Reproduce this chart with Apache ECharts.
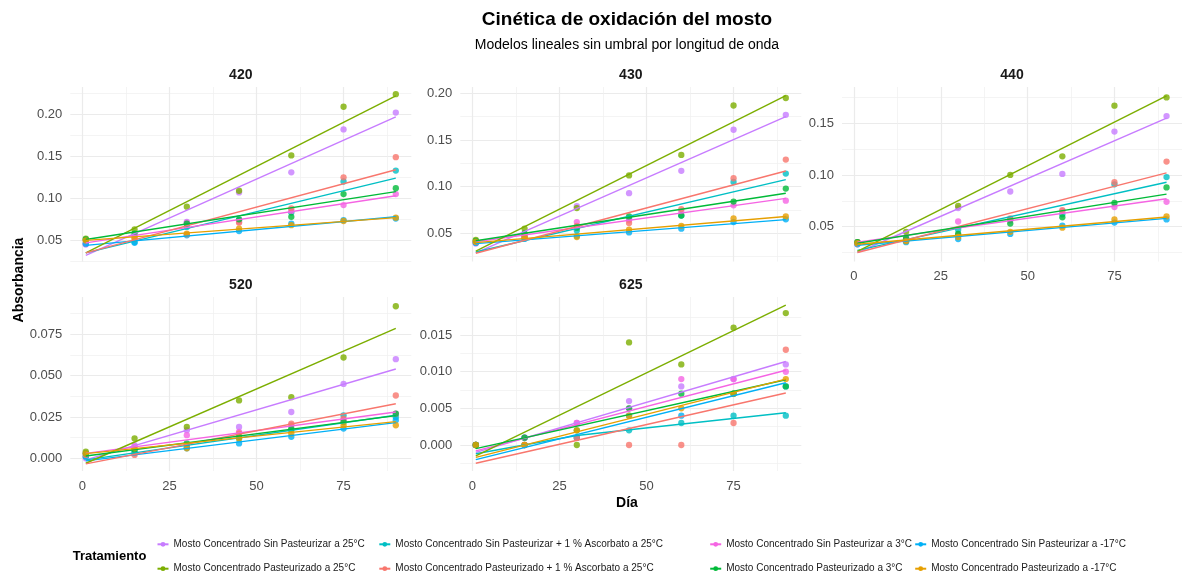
<!DOCTYPE html>
<html><head><meta charset="utf-8">
<script src="https://cdn.jsdelivr.net/npm/echarts@6/dist/echarts.min.js"></script>
<style>html,body{margin:0;padding:0;background:#fff}#c{width:1184px;height:573px}</style>
</head><body><div id="c"></div>
<script>
// ---------------- DATA ----------------
const days = [1, 15, 30, 45, 60, 75, 90];
const treatments = [
  'Mosto Concentrado Sin Pasteurizar a 25°C',
  'Mosto Concentrado Sin Pasteurizar + 1 % Ascorbato a 25°C',
  'Mosto Concentrado Sin Pasteurizar a 3°C',
  'Mosto Concentrado Sin Pasteurizar a -17°C',
  'Mosto Concentrado Pasteurizado a 25°C',
  'Mosto Concentrado Pasteurizado + 1 % Ascorbato a 25°C',
  'Mosto Concentrado Pasteurizado a 3°C',
  'Mosto Concentrado Pasteurizado a -17°C'
];
const colors = ['#C77CFF', '#00BFC4', '#F564E3', '#00B0F6', '#7CAE00', '#F8766D', '#00BA38', '#E69F00'];
const panelNames = ['420', '430', '440', '520', '625'];

// observed absorbance, one row per treatment (same order as treatments), columns = days
const abs420 = [
  [0.045, 0.056, 0.072, 0.107, 0.131, 0.182, 0.202],
  [0.046, 0.048, 0.066, 0.074, 0.083, 0.120, 0.133],
  [0.046, 0.055, 0.071, 0.072, 0.085, 0.092, 0.105],
  [0.046, 0.047, 0.056, 0.061, 0.070, 0.074, 0.076],
  [0.052, 0.063, 0.090, 0.109, 0.151, 0.209, 0.224],
  [0.050, 0.053, 0.057, 0.071, 0.088, 0.125, 0.149],
  [0.051, 0.058, 0.070, 0.075, 0.078, 0.105, 0.112],
  [0.050, 0.052, 0.058, 0.064, 0.068, 0.073, 0.077]
];
const abs430 = [
  [0.039, 0.048, 0.079, 0.093, 0.117, 0.161, 0.177],
  [0.040, 0.045, 0.053, 0.066, 0.069, 0.105, 0.114],
  [0.041, 0.047, 0.062, 0.064, 0.073, 0.080, 0.085],
  [0.040, 0.044, 0.047, 0.051, 0.055, 0.062, 0.065],
  [0.043, 0.055, 0.077, 0.112, 0.134, 0.187, 0.195],
  [0.041, 0.046, 0.058, 0.061, 0.076, 0.109, 0.129],
  [0.042, 0.050, 0.056, 0.068, 0.069, 0.084, 0.098],
  [0.041, 0.046, 0.046, 0.054, 0.058, 0.066, 0.068]
];
const abs440 = [
  [0.033, 0.040, 0.068, 0.084, 0.101, 0.142, 0.157],
  [0.034, 0.036, 0.047, 0.057, 0.062, 0.091, 0.098],
  [0.035, 0.038, 0.055, 0.056, 0.065, 0.069, 0.074],
  [0.033, 0.035, 0.038, 0.043, 0.051, 0.054, 0.057],
  [0.035, 0.045, 0.070, 0.100, 0.118, 0.167, 0.175],
  [0.034, 0.037, 0.042, 0.058, 0.066, 0.093, 0.113],
  [0.035, 0.039, 0.043, 0.053, 0.059, 0.073, 0.088],
  [0.034, 0.036, 0.040, 0.045, 0.049, 0.057, 0.060]
];
const abs520 = [
  [0.000, 0.008, 0.017, 0.019, 0.028, 0.045, 0.060],
  [0.001, 0.004, 0.007, 0.012, 0.017, 0.026, 0.025],
  [0.003, 0.007, 0.014, 0.016, 0.020, 0.023, 0.027],
  [0.001, 0.003, 0.006, 0.009, 0.013, 0.018, 0.023],
  [0.004, 0.012, 0.019, 0.035, 0.037, 0.061, 0.092],
  [0.002, 0.002, 0.008, 0.015, 0.021, 0.024, 0.038],
  [0.003, 0.005, 0.009, 0.013, 0.018, 0.022, 0.027],
  [0.003, 0.006, 0.006, 0.012, 0.015, 0.020, 0.020]
];
const abs625 = [
  [0.000, 0.001, 0.003, 0.006, 0.008, 0.009, 0.011],
  [0.000, 0.001, 0.001, 0.002, 0.003, 0.004, 0.004],
  [0.000, 0.001, 0.003, 0.005, 0.009, 0.009, 0.010],
  [0.000, 0.000, 0.001, 0.004, 0.004, 0.007, 0.008],
  [0.000, 0.000, 0.000, 0.014, 0.011, 0.016, 0.018],
  [0.000, 0.000, 0.001, 0.000, 0.000, 0.003, 0.013],
  [0.000, 0.001, 0.002, 0.005, 0.007, 0.007, 0.008],
  [0.000, 0.000, 0.002, 0.004, 0.005, 0.007, 0.009]
];

// fitted model lines, [day, value] points
const fit420 = [
  [[1, 0.032], [90, 0.197]], [[1, 0.035], [90, 0.124]], [[1, 0.047], [90, 0.103]], [[1, 0.044], [90, 0.078]],
  [[1, 0.035], [90, 0.222]], [[1, 0.035], [90, 0.134]], [[1, 0.051], [90, 0.108]], [[1, 0.050], [90, 0.077]]
];
const fit430 = [
  [[1, 0.029], [90, 0.175]], [[1, 0.030], [90, 0.1075]], [[1, 0.041], [90, 0.0875]], [[1, 0.039], [90, 0.0647]],
  [[1, 0.031], [90, 0.1975]], [[1, 0.0286], [90, 0.1168]], [[1, 0.042], [90, 0.093]], [[1, 0.040], [90, 0.068]]
];
const fit440 = [
  [[1, 0.025], [90, 0.155]], [[1, 0.027], [90, 0.093]], [[1, 0.035], [90, 0.077]], [[1, 0.032], [90, 0.058]],
  [[1, 0.026], [90, 0.1765]], [[1, 0.025], [90, 0.102]], [[1, 0.034], [90, 0.0815]], [[1, 0.033], [90, 0.0594]]
];
const fit520 = [
  [[1, -0.001], [90, 0.054]], [[1, -0.001], [90, 0.026]], [[1, 0.003], [90, 0.028]], [[1, -0.0016], [90, 0.0216]],
  [[1, -0.003], [90, 0.0786]], [[1, -0.0034], [90, 0.033]], [[1, 0.0014], [90, 0.0258]], [[1, 0.0028], [90, 0.0222]]
];
const fit625 = [
  [[1, -0.001], [90, 0.0114]], [[1, -0.0012], [30, 0.0013], [90, 0.0044]], [[1, -0.0008], [90, 0.0102]], [[1, -0.002], [90, 0.0085]],
  [[1, -0.0015], [90, 0.0191]], [[1, -0.0025], [90, 0.0071]], [[1, -0.0005], [90, 0.0089]], [[1, -0.0017], [90, 0.009]]
];

// tick values
const xMajor = [0, 25, 50, 75];
const xMinor = [12.5, 37.5, 62.5, 87.5];
const yMajorA = [0.05, 0.10, 0.15, 0.20];
const yMinorA = [0.025, 0.075, 0.125, 0.175, 0.225];
const yMajor440 = [0.05, 0.10, 0.15];
const yMinor440 = [0.025, 0.075, 0.125, 0.175];
const yMajor520 = [0, 0.025, 0.05, 0.075];
const yMinor520 = [0.0125, 0.0375, 0.0625, 0.0875];
const yMajor625 = [0, 0.005, 0.010, 0.015];
const yMinor625 = [-0.0025, 0.0025, 0.0075, 0.0125, 0.0175];

// ---------------- LAYOUT ----------------
const FONT = '"Liberation Sans", Arial, Helvetica, sans-serif';
const panels = [
  {abs: abs420, fit: fit420, yMajor: yMajorA, yMinor: yMinorA, yMin: 0.0248, yMax: 0.2325, dec: 2, left: 70.3, top: 87, width: 341, height: 174.5, xLab: false},
  {abs: abs430, fit: fit430, yMajor: yMajorA, yMinor: yMinorA, yMin: 0.0198, yMax: 0.2068, dec: 2, left: 460.3, top: 87, width: 341, height: 174.5, xLab: false},
  {abs: abs440, fit: fit440, yMajor: yMajor440, yMinor: yMinor440, yMin: 0.0163, yMax: 0.1851, dec: 2, left: 842, top: 87, width: 340, height: 174.5, xLab: true},
  {abs: abs520, fit: fit520, yMajor: yMajor520, yMinor: yMinor520, yMin: -0.0077, yMax: 0.0976, dec: 3, left: 70.3, top: 297, width: 341, height: 174, xLab: true},
  {abs: abs625, fit: fit625, yMajor: yMajor625, yMinor: yMinor625, yMin: -0.00355, yMax: 0.0202, dec: 3, left: 460.3, top: 297, width: 341, height: 174, xLab: true}
];
const XMIN = -3.45, XMAX = 94.45;
const gridMajor = {color: '#EBEBEB', width: 1.2};
const gridMinor = {color: '#EFEFEF', width: 0.7};
const tickText = {color: '#4D4D4D', fontSize: 13, fontFamily: FONT};

const grids = [], xAxes = [], yAxes = [], series = [], graphics = [];
panels.forEach((p, i) => {
  grids.push({left: p.left, top: p.top, width: p.width, height: p.height, containLabel: false, outerBoundsMode: 'none'});
  xAxes.push({type: 'value', gridIndex: i, min: XMIN, max: XMAX, position: 'bottom',
    axisLine: {show: false}, axisTick: {show: false, customValues: xMajor},
    axisLabel: Object.assign({show: p.xLab, customValues: xMajor, margin: 8.5}, tickText),
    splitLine: {show: true, lineStyle: gridMajor}});
  xAxes.push({type: 'value', gridIndex: i, min: XMIN, max: XMAX, position: 'top',
    axisLine: {show: false}, axisTick: {show: false, customValues: xMinor},
    axisLabel: {show: false, customValues: xMinor}, splitLine: {show: true, lineStyle: gridMinor}});
  yAxes.push({type: 'value', gridIndex: i, min: p.yMin, max: p.yMax, position: 'left',
    axisLine: {show: false}, axisTick: {show: false, customValues: p.yMajor},
    axisLabel: Object.assign({show: true, customValues: p.yMajor, margin: 8,
      formatter: v => Number(v).toFixed(p.dec)}, tickText),
    splitLine: {show: true, lineStyle: gridMajor}});
  yAxes.push({type: 'value', gridIndex: i, min: p.yMin, max: p.yMax, position: 'right',
    axisLine: {show: false}, axisTick: {show: false, customValues: p.yMinor},
    axisLabel: {show: false, customValues: p.yMinor}, splitLine: {show: true, lineStyle: gridMinor}});
  graphics.push({type: 'text', x: p.left + p.width / 2, y: p.top - 11.5,
    style: {text: panelNames[i], fill: '#1A1A1A', fontSize: 14, fontWeight: 'bold', fontFamily: FONT,
      align: 'center', verticalAlign: 'middle', textAlign: 'center', textVerticalAlign: 'middle'}});
});
// fitted lines first (legend icons come from them), drawn above points
panels.forEach((p, i) => {
  p.fit.forEach((pts, k) => {
    series.push({type: 'line', name: treatments[k], xAxisIndex: 2 * i, yAxisIndex: 2 * i, data: pts,
      showSymbol: false, symbol: 'circle', symbolSize: 5, lineStyle: {color: colors[k], width: 1.4},
      itemStyle: {color: colors[k]}, z: 4, silent: true, animation: false});
  });
});
panels.forEach((p, i) => {
  p.abs.forEach((vals, k) => {
    series.push({type: 'scatter', name: treatments[k], xAxisIndex: 2 * i, yAxisIndex: 2 * i,
      data: days.map((d, j) => [d, vals[j]]), symbolSize: 6.3,
      itemStyle: {color: colors[k], opacity: 0.8}, z: 3, silent: true, animation: false});
  });
});

// legends: 4 columns x 2 rows
const legendX = [156.5, 378.3, 709.2, 914.2];
const legendY = [539.3, 563.7];
const legends = [];
treatments.forEach((t, k) => {
  const col = Math.floor(k % 4), row = Math.floor(k / 4);
  legends.push({left: legendX[col], top: legendY[row], padding: 0, orient: 'horizontal',
    itemWidth: 11, itemHeight: 6, itemTextGap: 10, selectedMode: false, data: [t],
    textStyle: {fontSize: 10, color: '#1A1A1A', fontFamily: FONT}});
});

const txt = (text, x, y, size, bold, align, rot) => ({type: 'text', x: x, y: y, rotation: rot || 0,
  style: {text: text, fill: '#000', fontSize: size, fontWeight: bold ? 'bold' : 'normal', fontFamily: FONT,
    align: align, verticalAlign: 'middle', textAlign: align, textVerticalAlign: 'middle'}});
graphics.push(txt('Cinética de oxidación del mosto', 627, 20, 19, true, 'center'));
graphics.push(txt('Modelos lineales sin umbral por longitud de onda', 627, 45, 14, false, 'center'));
graphics.push(txt('Día', 627, 503, 14, true, 'center'));
graphics.push(txt('Absorbancia', 19, 280, 14, true, 'center', Math.PI / 2));
graphics.push(txt('Tratamiento', 72.7, 556.7, 13, true, 'left'));

const chart = echarts.init(document.getElementById('c'));
chart.setOption({
  animation: false,
  backgroundColor: '#fff',
  grid: grids, xAxis: xAxes, yAxis: yAxes, series: series,
  legend: legends, graphic: graphics
});
</script></body></html>
